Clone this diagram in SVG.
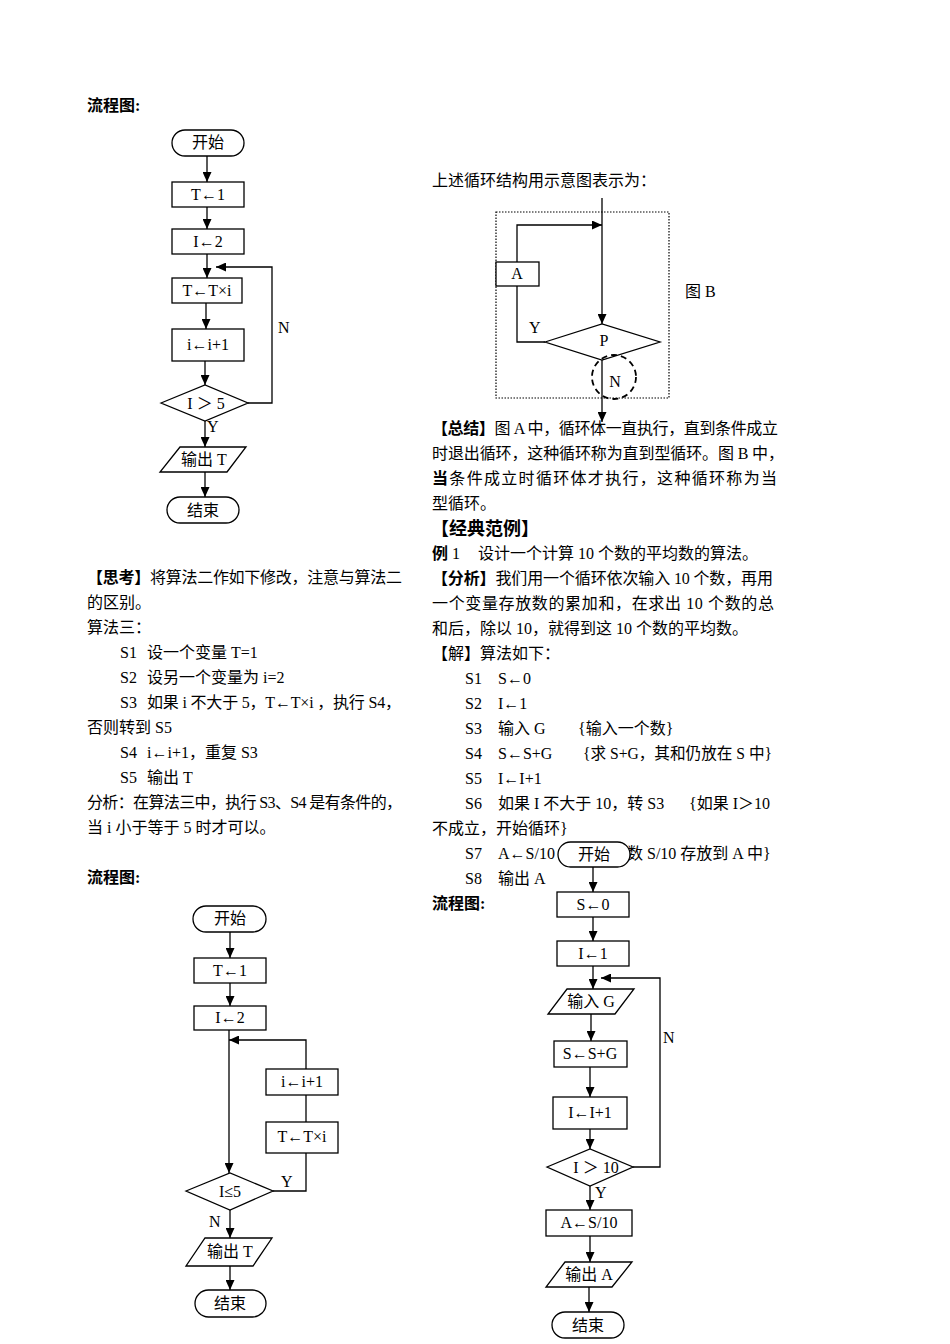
<svg xmlns="http://www.w3.org/2000/svg" width="950" height="1344" viewBox="0 0 950 1344">
<style>
.t{font-family:"Liberation Serif","Noto Sans CJK SC",serif;font-size:16px;fill:#000}
.c{text-anchor:middle}
.b{font-weight:bold}
.box{fill:#fff;stroke:#000;stroke-width:1.3}
.ln{fill:none;stroke:#000;stroke-width:1.3}
</style>
<defs>
<marker id="ah" markerWidth="10" markerHeight="9" refX="10" refY="4.5" orient="auto" markerUnits="userSpaceOnUse"><path d="M0,0 L10,4.5 L0,9 z" fill="#000"/></marker>
</defs>
<rect width="950" height="1344" fill="#fff"/>

<!-- Texts -->
<g id="text-left">
<text class="t b" x="87" y="111">流程图:</text>
<text class="t" x="87" y="583" textLength="315" lengthAdjust="spacing"><tspan class="b">【思考】</tspan>将算法二作如下修改，注意与算法二</text>
<text class="t" x="87" y="608">的区别。</text>
<text class="t" x="87" y="633">算法三：</text>
<text class="t" x="120" y="658">S1<tspan x="147">设一个变量 T=1</tspan></text>
<text class="t" x="120" y="683">S2<tspan x="147">设另一个变量为 i=2</tspan></text>
<text class="t" x="120" y="708">S3<tspan x="147" textLength="254" lengthAdjust="spacing">如果 i 不大于 5，T←T×i ，执行 S4，</tspan></text>
<text class="t" x="87" y="733">否则转到 S5</text>
<text class="t" x="120" y="758">S4<tspan x="147">i←i+1，重复 S3</tspan></text>
<text class="t" x="120" y="783">S5<tspan x="147">输出 T</tspan></text>
<text class="t" x="87" y="808" textLength="315" lengthAdjust="spacing">分析：在算法三中，执行 S3、S4 是有条件的，</text>
<text class="t" x="87" y="833">当 i 小于等于 5 时才可以。</text>
<text class="t b" x="87" y="883">流程图:</text>
</g>

<g id="text-right">
<text class="t" x="432" y="186">上述循环结构用示意图表示为：</text>
<text class="t" x="685" y="297">图 B</text>
<text class="t" x="432" y="434" textLength="346" lengthAdjust="spacing"><tspan class="b">【总结】</tspan>图 A 中，循环体一直执行，直到条件成立</text>
<text class="t" x="432" y="459" textLength="352" lengthAdjust="spacing">时退出循环，这种循环称为直到型循环。图 B 中，</text>
<text class="t" x="432" y="484" textLength="345" lengthAdjust="spacing"><tspan class="b">当</tspan>条件成立时循环体才执行，这种循环称为当</text>
<text class="t" x="432" y="509">型循环。</text>
<text class="t b" x="431" y="535" style="font-size:18px">【经典范例】</text>
<text class="t" x="432" y="559"><tspan class="b">例</tspan> 1</text>
<text class="t" x="478" y="559">设计一个计算 10 个数的平均数的算法。</text>
<text class="t" x="432" y="584" textLength="341" lengthAdjust="spacing"><tspan class="b">【分析】</tspan>我们用一个循环依次输入 10 个数，再用</text>
<text class="t" x="432" y="609" textLength="342" lengthAdjust="spacing">一个变量存放数的累加和，在求出 10 个数的总</text>
<text class="t" x="432" y="634">和后，除以 10，就得到这 10 个数的平均数。</text>
<text class="t" x="432" y="659">【解】算法如下：</text>
<text class="t" x="465" y="684">S1</text><text class="t" x="498" y="684">S←0</text>
<text class="t" x="465" y="709">S2</text><text class="t" x="498" y="709">I←1</text>
<text class="t" x="465" y="734">S3</text><text class="t" x="498" y="734">输入 G</text><text class="t" x="578" y="734">{输入一个数}</text>
<text class="t" x="465" y="759">S4</text><text class="t" x="498" y="759">S←S+G</text><text class="t" x="583" y="759" textLength="189" lengthAdjust="spacingAndGlyphs">{求 S+G，其和仍放在 S 中}</text>
<text class="t" x="465" y="784">S5</text><text class="t" x="498" y="784">I←I+1</text>
<text class="t" x="465" y="809">S6</text><text class="t" x="498" y="809">如果 I 不大于 10，转 S3</text><text class="t" x="689" y="809">{如果 I＞10</text>
<text class="t" x="432" y="834">不成立，开始循环}</text>
<text class="t" x="465" y="859">S7</text><text class="t" x="498" y="859">A←S/10</text><text class="t" x="627" y="859">数 S/10 存放到 A 中}</text>
<text class="t" x="465" y="884">S8</text><text class="t" x="498" y="884">输出 A</text>
<text class="t b" x="432" y="909">流程图:</text>
</g>

<!-- Connectors -->
<g id="connectors">
<!-- flowchart 1 -->
<line class="ln" x1="207" y1="156" x2="207" y2="182" marker-end="url(#ah)"/>
<line class="ln" x1="207" y1="207" x2="207" y2="229" marker-end="url(#ah)"/>
<line class="ln" x1="207" y1="254" x2="207" y2="278" marker-end="url(#ah)"/>
<line class="ln" x1="206" y1="303" x2="206" y2="329" marker-end="url(#ah)"/>
<line class="ln" x1="205" y1="361" x2="205" y2="385" marker-end="url(#ah)"/>
<line class="ln" x1="205" y1="421" x2="205" y2="447" marker-end="url(#ah)"/>
<line class="ln" x1="205" y1="472" x2="205" y2="497" marker-end="url(#ah)"/>
<path class="ln" d="M248,403 H272 V267 H216" marker-end="url(#ah)"/>
<text class="t" x="278" y="333">N</text>
<text class="t" x="207" y="432">Y</text>
<!-- figure B -->
<line class="ln" x1="602" y1="198" x2="602" y2="324" marker-end="url(#ah)"/>
<path class="ln" d="M517,262 V225 H602" marker-end="url(#ah)"/>
<path class="ln" d="M517,286 V342 H545"/>
<line class="ln" x1="602" y1="360" x2="602" y2="422" marker-end="url(#ah)"/>
<text class="t" x="529" y="333">Y</text>
<!-- flowchart 2 -->
<line class="ln" x1="230" y1="932" x2="230" y2="958" marker-end="url(#ah)"/>
<line class="ln" x1="230" y1="983" x2="230" y2="1006" marker-end="url(#ah)"/>
<line class="ln" x1="229" y1="1030" x2="229" y2="1173" marker-end="url(#ah)"/>
<path class="ln" d="M306,1069 V1040 H229" marker-end="url(#ah)"/>
<line class="ln" x1="306" y1="1095" x2="306" y2="1122"/>
<path class="ln" d="M306,1153 V1191 H273"/>
<line class="ln" x1="230" y1="1210" x2="230" y2="1238" marker-end="url(#ah)"/>
<line class="ln" x1="230" y1="1266" x2="230" y2="1290" marker-end="url(#ah)"/>
<text class="t" x="281" y="1187">Y</text>
<text class="t" x="209" y="1227">N</text>
<!-- flowchart 3 -->
<line class="ln" x1="593" y1="867" x2="593" y2="892" marker-end="url(#ah)"/>
<line class="ln" x1="593" y1="917" x2="593" y2="941" marker-end="url(#ah)"/>
<line class="ln" x1="593" y1="966" x2="593" y2="989" marker-end="url(#ah)"/>
<path class="ln" d="M633,1167 H660 V978 H601" marker-end="url(#ah)"/>
<line class="ln" x1="591" y1="1014" x2="591" y2="1041" marker-end="url(#ah)"/>
<line class="ln" x1="590" y1="1067" x2="590" y2="1097" marker-end="url(#ah)"/>
<line class="ln" x1="590" y1="1129" x2="590" y2="1149" marker-end="url(#ah)"/>
<line class="ln" x1="590" y1="1186" x2="590" y2="1210" marker-end="url(#ah)"/>
<line class="ln" x1="590" y1="1236" x2="590" y2="1262" marker-end="url(#ah)"/>
<line class="ln" x1="589" y1="1287" x2="589" y2="1312" marker-end="url(#ah)"/>
<text class="t" x="663" y="1043">N</text>
<text class="t" x="595" y="1198">Y</text>
</g>

<!-- Flowchart 1 nodes -->
<g id="f1-start"><rect class="box" x="172" y="130" width="72" height="26" rx="13"/><text class="t c" x="208" y="148">开始</text></g>
<g id="f1-t1"><rect class="box" x="172" y="182" width="72" height="25"/><text class="t c" x="208" y="200">T←1</text></g>
<g id="f1-i2"><rect class="box" x="172" y="229" width="72" height="25"/><text class="t c" x="208" y="247">I←2</text></g>
<g id="f1-txi"><rect class="box" x="172" y="278" width="70" height="25"/><text class="t c" x="207" y="296">T←T×i</text></g>
<g id="f1-inc"><rect class="box" x="172" y="329" width="72" height="32"/><text class="t c" x="208" y="350">i←i+1</text></g>
<g id="f1-cond"><polygon class="box" points="161,403 205,385 248,403 205,421"/><text class="t c" x="206" y="409">I ＞ 5</text></g>
<g id="f1-out"><polygon class="box" points="180,447 246,447 227,472 160,472"/><text class="t c" x="204" y="465">输出 T</text></g>
<g id="f1-end"><rect class="box" x="167" y="497" width="72" height="26" rx="13"/><text class="t c" x="203" y="516">结束</text></g>

<!-- Figure B -->
<g id="figB-frame"><rect x="496" y="212" width="173" height="186" fill="none" stroke="#000" stroke-width="1.2" stroke-dasharray="1.5,1.5"/></g>
<g id="figB-A"><rect class="box" x="496" y="262" width="43" height="24"/><text class="t c" x="517" y="279">A</text></g>
<g id="figB-P"><polygon class="box" points="545,342 602,324 660,342 602,360"/><text class="t c" x="604" y="346">P</text></g>
<g id="figB-N"><circle cx="614" cy="377" r="22" fill="none" stroke="#000" stroke-width="1.8" stroke-dasharray="6,4"/><text class="t c" x="615" y="387">N</text></g>

<!-- Flowchart 2 nodes -->
<g id="f2-start"><rect class="box" x="193" y="906" width="73" height="26" rx="13"/><text class="t c" x="230" y="924">开始</text></g>
<g id="f2-t1"><rect class="box" x="194" y="958" width="72" height="25"/><text class="t c" x="230" y="976">T←1</text></g>
<g id="f2-i2"><rect class="box" x="194" y="1006" width="72" height="24"/><text class="t c" x="230" y="1023">I←2</text></g>
<g id="f2-inc"><rect class="box" x="266" y="1069" width="72" height="26"/><text class="t c" x="302" y="1087">i←i+1</text></g>
<g id="f2-txi"><rect class="box" x="266" y="1122" width="72" height="31"/><text class="t c" x="302" y="1142">T←T×i</text></g>
<g id="f2-cond"><polygon class="box" points="186,1191 230,1173 273,1191 230,1210"/><text class="t c" x="230" y="1197">I≤5</text></g>
<g id="f2-out"><polygon class="box" points="205,1238 272,1238 253,1266 186,1266"/><text class="t c" x="230" y="1257">输出 T</text></g>
<g id="f2-end"><rect class="box" x="195" y="1290" width="71" height="27" rx="13.5"/><text class="t c" x="230" y="1309">结束</text></g>

<!-- Flowchart 3 nodes -->
<g id="f3-start"><rect class="box" x="558" y="842" width="72" height="25" rx="12.5"/><text class="t c" x="594" y="860">开始</text></g>
<g id="f3-s0"><rect class="box" x="557" y="892" width="72" height="25"/><text class="t c" x="593" y="910">S←0</text></g>
<g id="f3-i1"><rect class="box" x="557" y="941" width="72" height="25"/><text class="t c" x="593" y="959">I←1</text></g>
<g id="f3-in"><polygon class="box" points="567,989 634,989 615,1014 548,1014"/><text class="t c" x="591" y="1007">输入 G</text></g>
<g id="f3-sum"><rect class="box" x="554" y="1041" width="73" height="26"/><text class="t c" x="590" y="1059">S←S+G</text></g>
<g id="f3-inc"><rect class="box" x="553" y="1097" width="74" height="32"/><text class="t c" x="590" y="1118">I←I+1</text></g>
<g id="f3-cond"><polygon class="box" points="547,1167 590,1149 633,1167 590,1186"/><text class="t c" x="596" y="1173">I ＞ 10</text></g>
<g id="f3-avg"><rect class="box" x="546" y="1210" width="86" height="26"/><text class="t c" x="589" y="1228">A←S/10</text></g>
<g id="f3-out"><polygon class="box" points="565,1262 632,1262 612,1287 546,1287"/><text class="t c" x="589" y="1280">输出 A</text></g>
<g id="f3-end"><rect class="box" x="552" y="1312" width="72" height="26" rx="13"/><text class="t c" x="588" y="1331">结束</text></g>
</svg>
